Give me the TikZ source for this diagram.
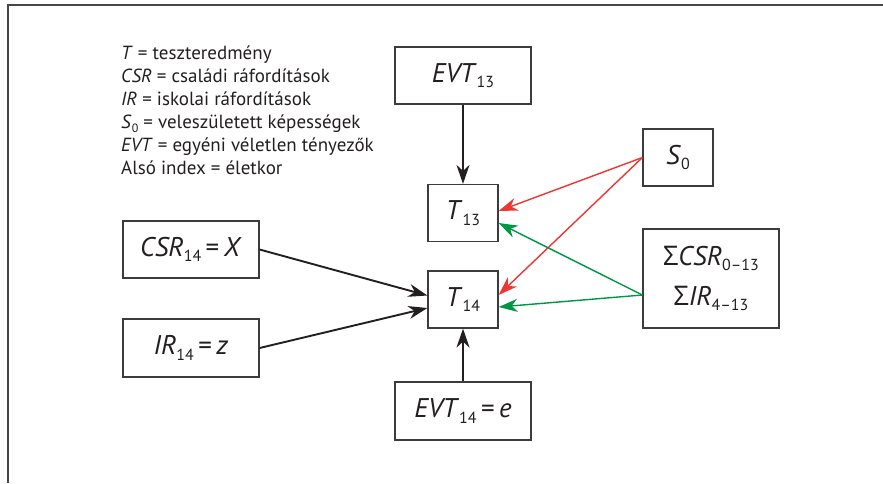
\documentclass[tikz,border=0pt]{standalone}
\usepackage{fontspec}
\setmainfont{PT Sans}
\newfontfamily\sigmafont{Open Sans}
\usetikzlibrary{
    arrows.meta,
    positioning,
    calc
}
% index (subscript) in the boxes and in the legend
\newcommand{\boxix}[1]{\raisebox{-0.2em}{\fontsize{16}{16}\selectfont #1}}
\newcommand{\keyix}[1]{\raisebox{-0.18em}{\fontsize{12}{12}\selectfont #1}}
\definecolor{inkblack}{RGB}{35,31,32}
\definecolor{boxgray}{RGB}{60,60,60}
\definecolor{framegray}{RGB}{70,70,70}
\definecolor{linkred}{RGB}{238,54,52}
\definecolor{linkgreen}{RGB}{0,150,68}
\tikzset{
    % --- Factor box (wide) ---
    factor/.style = {
        rectangle, draw=boxgray, line width=1.2pt, fill=white,
        minimum width=136pt, minimum height=57pt, inner sep=0pt,
        font=\fontsize{27}{40}\selectfont, align=center,
        text=inkblack
    },
    % --- Narrow factor box (test result, S0) ---
    small factor/.style = {
        factor, minimum width=70pt
    },
    % --- Legend text ---
    legend/.style = {
        font=\fontsize{19}{23}\selectfont, align=left,
        inner sep=0pt, text=inkblack
    },
    % --- Effect arrows ---
    effect/.style = {
        -{Stealth[length=19pt, width=13pt, inset=6pt]},
        line width=1.9pt, draw=inkblack
    },
    red effect/.style = {
        effect, draw=linkred, fill=linkred, line width=1.4pt
    },
    green effect/.style = {
        effect, draw=linkgreen, fill=linkgreen, line width=1.4pt
    },
    % --- Outer frame ---
    frame line/.style = {
        draw=framegray, line width=1.8pt
    }
}
\begin{document}
\begin{tikzpicture}[x=1pt, y=-1pt]
\useasboundingbox (0,0) rectangle (883,483);

% ---------------------------------------------------------
% Frame
% ---------------------------------------------------------
\draw[frame line] (8,483) -- (8,5) -- (883,5);

% ---------------------------------------------------------
% Legend
% ---------------------------------------------------------
\node[legend, anchor=north west] (key) at (121,46) {%
    \textit{T} = teszteredmény\\
    \textit{CSR} = családi ráfordítások\\
    \textit{IR} = iskolai ráfordítások\\
    \textit{S}\keyix{0} = veleszületett képességek\\
    \textit{EVT} = egyéni véletlen tényezők\\
    Alsó index = életkor
};

% ---------------------------------------------------------
% Boxes
% ---------------------------------------------------------
\node[factor] (evtA) at (463,75.5) {\textit{EVT}\boxix{13}};
\node[small factor] (tA) at (463,213) {\textit{T}\boxix{13}};
\node[small factor] (sO) at (678,157.5) {\textit{S}\boxix{0}};
\node[small factor] (tB) at (463,299.5) {\textit{T}\boxix{14}};
\node[factor, minimum height=99pt] (sum) at (711,278.5) {%
    {\sigmafont Σ}\textit{CSR}\boxix{0–13}\\
    {\sigmafont Σ}\textit{IR}\boxix{4–13}
};
\node[factor] (csr) at (191,249.5) {\textit{CSR}\boxix{14}\,=\,\textit{X}};
\node[factor, minimum height=58pt] (ir) at (191,348) {\textit{IR}\boxix{14}\,=\,\textit{z}};
\node[factor, minimum height=58pt] (evtB) at (463,411) {\textit{EVT}\boxix{14}\,=\,\textit{e}};

% ---------------------------------------------------------
% Arrow ends
% ---------------------------------------------------------
\coordinate (sumOut) at ($(sum.west)+(0,16.5)$);
\coordinate (tAred)  at ($(tA.east)+(0,-2)$);
\coordinate (tAgrn)  at ($(tA.east)+(0,10)$);
\coordinate (tBred)  at ($(tB.east)+(0,-4.5)$);
\coordinate (tBgrn)  at ($(tB.east)+(0,7.5)$);
\coordinate (tBcsr)  at ($(tB.west)+(0,-4)$);
\coordinate (tBir)   at ($(tB.west)+(0,8.5)$);

% ---------------------------------------------------------
% Effects
% ---------------------------------------------------------
\draw[effect] (evtA) -- (tA);
\draw[effect] (evtB) -- (tB);
\draw[effect] (csr.east) -- (tBcsr);
\draw[effect] (ir.east) -- (tBir);

\draw[red effect] (sO.west) -- (tAred);
\draw[red effect] (sO.west) -- (tBred);
\draw[green effect] (sumOut) -- (tAgrn);
\draw[green effect] (sumOut) -- (tBgrn);

\end{tikzpicture}
\end{document}
